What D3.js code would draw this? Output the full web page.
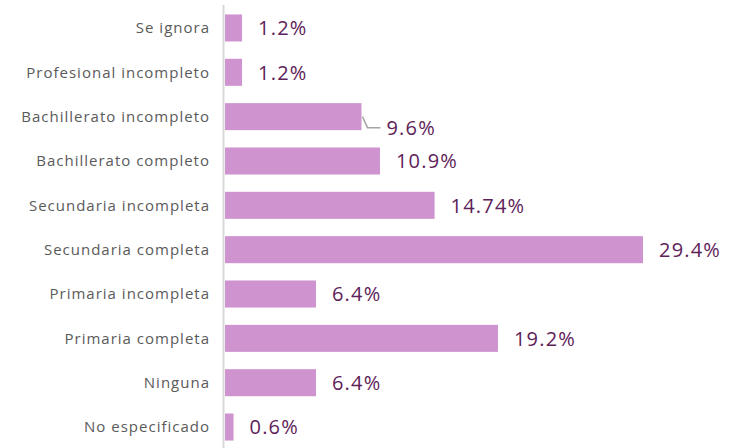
<!DOCTYPE html>
<html>
<head>
<meta charset="utf-8">
<script src="https://cdn.jsdelivr.net/npm/d3@7"></script>
<style>
  html, body { margin: 0; padding: 0; background: #ffffff; }
  svg { display: block; }
</style>
</head>
<body>
<svg id="chart" width="740" height="448"></svg>
<script>
const categories = [
  "Se ignora",
  "Profesional incompleto",
  "Bachillerato incompleto",
  "Bachillerato completo",
  "Secundaria incompleta",
  "Secundaria completa",
  "Primaria incompleta",
  "Primaria completa",
  "Ninguna",
  "No especificado"
];
const values = [1.2, 1.2, 9.6, 10.9, 14.74, 29.4, 6.4, 19.2, 6.4, 0.6];
const valueLabels = ["1.2%", "1.2%", "9.6%", "10.9%", "14.74%", "29.4%", "6.4%", "19.2%", "6.4%", "0.6%"];

const data = categories.map((c, i) => ({ cat: c, val: values[i], label: valueLabels[i] }));

const svg = d3.select("#chart");
const x = d3.scaleLinear().domain([0, 29.4]).range([225, 643]);
const y = d3.scaleBand().domain(categories).range([5.8, 449.2]).paddingInner(0.39).paddingOuter(0.195);

// axis line
svg.append("line")
  .attr("x1", 223.5).attr("x2", 223.5)
  .attr("y1", 5).attr("y2", 448)
  .attr("stroke", "#d9d9d9").attr("stroke-width", 2);

// bars
svg.selectAll("rect.bar").data(data).enter().append("rect")
  .attr("class", "bar")
  .attr("x", x(0))
  .attr("y", d => y(d.cat))
  .attr("width", d => x(d.val) - x(0))
  .attr("height", y.bandwidth())
  .attr("fill", "#cf94cf");

// category labels
svg.selectAll("text.cat").data(data).enter().append("text")
  .attr("class", "cat")
  .attr("x", 210)
  .attr("y", d => y(d.cat) + y.bandwidth() / 2)
  .attr("dy", "0.35em")
  .attr("text-anchor", "end")
  .attr("font-family", "'Open Sans', sans-serif")
  .attr("font-size", 15)
  .attr("letter-spacing", "1px")
  .attr("fill", "#5a5a5a")
  .text(d => d.cat);

// value labels
const offsetCat = "Bachillerato incompleto";
svg.selectAll("text.val").data(data).enter().append("text")
  .attr("class", "val")
  .attr("x", d => x(d.val) + (d.cat === offsetCat ? 25 : 16))
  .attr("y", d => y(d.cat) + y.bandwidth() / 2 + (d.cat === offsetCat ? 11 : 0))
  .attr("dy", "0.36em")
  .attr("font-family", "'Open Sans', sans-serif")
  .attr("font-size", 20)
  .attr("font-weight", 500)
  .attr("letter-spacing", "1.2px")
  .attr("fill", "#5e2258")
  .text(d => d.label);

// leader line for offset label
const od = data.find(d => d.cat === offsetCat);
const cy = y(od.cat) + y.bandwidth() / 2;
svg.append("polyline")
  .attr("points", [[x(od.val) + 1, cy], [x(od.val) + 6, cy + 11], [x(od.val) + 19, cy + 11]].map(p => p.join(",")).join(" "))
  .attr("fill", "none")
  .attr("stroke", "#a6a6a6")
  .attr("stroke-width", 1.5);
</script>
</body>
</html>
